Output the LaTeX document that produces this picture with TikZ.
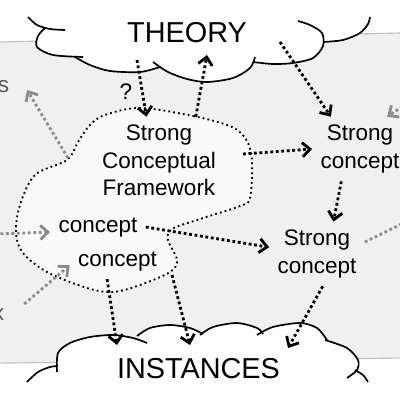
\documentclass[tikz,border=0pt]{standalone}
\usepackage{fontspec}
\setmainfont{Liberation Sans}
\usetikzlibrary{arrows.meta}

\begin{document}
\begin{tikzpicture}[
  x=0.025cm, y=-0.025cm,
  txt/.style={font=\fontsize{16}{19.5}\selectfont, align=center, inner sep=2pt, outer sep=4pt},
  big/.style={font=\fontsize{20.5}{24}\selectfont, inner sep=2pt},
  arr/.style={line width=2pt, dash pattern=on 2pt off 1.9pt, -{Straight Barb[length=5.5pt,width=10pt]}},
  garr/.style={arr, draw=black!45},
  frame/.style={line width=1.3pt, dash pattern=on 1.3pt off 2.2pt, fill=black!2},
  lobe/.style={line width=1.2pt}
]
\useasboundingbox (0,0) rectangle (400,400);
\clip (0,0) rectangle (400,400);

% background plane
\fill[black!6] (-5,42.1) -- (405,32.9) -- (405,358) -- (-5,363.2) -- cycle;
\draw[black!25, line width=0.8pt] (-5,42.1) -- (405,32.9);
\draw[black!25, line width=0.8pt] (-5,363.2) -- (405,358);

% conceptual framework
\draw[frame] plot[smooth cycle, tension=0.55] coordinates {
  (140,108) (193,116) (232,127) (247,141) (252,162) (250,198) (240,206)
  (200,219) (172,229) (168,240) (177,260) (170,272) (140,285) (113,292)
  (87,288) (47,272) (23,253) (16,233) (20,205) (35,175) (67,160) (78,142)
  (90,125) (105,115)};

% THEORY cloud
\fill[white] plot[smooth] coordinates {(28,17) (37,25) (50,29) (65,30)}
  -- plot[smooth] coordinates {(45,28) (38,36) (37,47) (53,55) (83,57)}
  -- plot[smooth] coordinates {(75,57) (90,65) (110,71) (140,72) (160,67)}
  -- plot[smooth] coordinates {(153,62) (168,72) (187,79) (207,82) (233,78) (250,68) (255,57)}
  -- plot[smooth] coordinates {(253,62) (273,64) (293,63) (313,58) (323,46)}
  -- plot[smooth] coordinates {(323,42) (343,40) (360,33) (368,24) (370,17)}
  -- (370,-10) -- (28,-10) -- cycle;
\draw[lobe] plot[smooth] coordinates {(28,17) (37,25) (50,29) (65,30)};
\draw[lobe] plot[smooth] coordinates {(45,28) (38,36) (37,47) (53,55) (83,57)};
\draw[lobe] plot[smooth] coordinates {(75,57) (90,65) (110,71) (140,72) (160,67)};
\draw[lobe] plot[smooth] coordinates {(153,62) (168,72) (187,79) (207,82) (233,78) (250,68) (255,57)};
\draw[lobe] plot[smooth] coordinates {(253,62) (273,64) (293,63) (313,58) (323,46) (322,33) (310,25) (298,21)};
\draw[lobe] plot[smooth] coordinates {(323,42) (343,40) (360,33) (368,24) (370,17)};

% INSTANCES cloud
\fill[white] plot[smooth] coordinates {(27,382) (38,372) (50,367) (58,366)}
  -- plot[smooth] coordinates {(57,372) (58,353) (70,343) (90,337) (113,335) (133,338) (147,343)}
  -- plot[smooth] coordinates {(137,336) (150,328) (170,325) (190,328) (203,334)}
  -- plot[smooth] coordinates {(200,335) (213,327) (237,323) (257,328) (263,334)}
  -- plot[smooth] coordinates {(257,335) (273,327) (300,323) (317,328) (327,340)}
  -- plot[smooth] coordinates {(325,340) (347,348) (358,360) (357,370) (347,378)}
  -- plot[smooth] coordinates {(355,370) (363,375) (368,382)}
  -- (368,410) -- (27,410) -- cycle;
\draw[lobe] plot[smooth] coordinates {(27,382) (38,372) (50,367) (58,366)};
\draw[lobe] plot[smooth] coordinates {(57,372) (58,353) (70,343) (90,337) (113,335) (133,338) (147,343)};
\draw[lobe] plot[smooth] coordinates {(137,336) (150,328) (170,325) (190,328) (203,334)};
\draw[lobe] plot[smooth] coordinates {(200,335) (213,327) (237,323) (257,328) (263,334)};
\draw[lobe] plot[smooth] coordinates {(257,335) (273,327) (300,323) (317,328) (327,340)};
\draw[lobe] plot[smooth] coordinates {(325,340) (347,348) (358,360) (357,370) (347,378)};
\draw[lobe] plot[smooth] coordinates {(355,370) (363,375) (368,382)};

% texts
\node[big, anchor=base] (thy) at (187,43) {THEORY};
\node[big, anchor=base] (inst) at (198.5,378) {INSTANCES};
\node[txt] (fw) at (159,160.5) {Strong\\Conceptual\\Framework};
\node[txt] (sc1) at (360,149) {Strong\\concept};
\node[txt] (sc2) at (317,254) {Strong\\concept};
\node[txt, anchor=base] (c1) at (98,232) {concept};
\node[txt, anchor=base] (c2) at (117.5,266) {concept};
\node[txt, anchor=base] (q) at (126,100) {?};
\node[txt, anchor=base, text=black!65] (ls) at (3.5,93) {s};
\node[txt, anchor=base, text=black!65] (lx) at (-1.5,320) {x};

% free ends
\coordinate (tha) at (137,60);
\coordinate (thb) at (207,55);
\coordinate (thc) at (280,42);
\coordinate (ina) at (117,345);
\coordinate (inb) at (190,345);
\coordinate (inc) at (288,348);
\coordinate (fwr) at (243,154);
\coordinate (fwb) at (172,275);
\coordinate (fwl) at (68,158);
\coordinate (ga) at (27,90);
\coordinate (gb) at (-5,234);
\coordinate (gd) at (440,205);
\coordinate (ge) at (430,88);

% links
\draw[arr] (tha) -- (fw.106);
\draw[arr] (fw.50) -- (thb);
\draw[arr] (thc) -- (sc1.132);
\draw[arr] (fwr) -- (sc1.west);
\draw[arr] (sc1.240) -- (sc2.63);
\draw[arr] (c1.east) -- (sc2.172);
\draw[arr] (sc2.280) -- (inc);
\draw[arr] (c2.240) -- (ina);
\draw[arr] (fwb) -- (inb);
\draw[garr] (fwl) -- (ga);
\draw[garr] (gb) -- (c1.186);
\draw[garr, shorten <=11pt] (lx.east) -- (c2.185);
\draw[garr] (sc2.14) -- (gd);
\draw[garr] (ge) -- (sc1.50);
\end{tikzpicture}
\end{document}
